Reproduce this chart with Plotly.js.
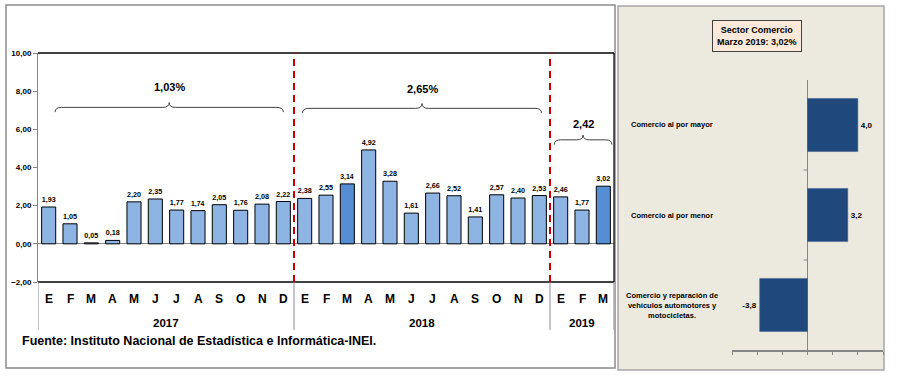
<!DOCTYPE html>
<html>
<head>
<meta charset="utf-8">
<script src="https://cdn.plot.ly/plotly-3.0.1.min.js"></script>
<style>
  html, body { margin: 0; padding: 0; background: #fff; }
  #chart { width: 920px; height: 376px; }
</style>
</head>
<body>
<div id="chart"></div>
<script>
// ---------- DATA ----------
const months = ['E','F','M','A','M','J','J','A','S','O','N','D',
                'E','F','M','A','M','J','J','A','S','O','N','D',
                'E','F','M'];
const values = [1.93, 1.05, 0.05, 0.18, 2.20, 2.35, 1.77, 1.74, 2.05, 1.76, 2.08, 2.22,
                2.38, 2.55, 3.14, 4.92, 3.28, 1.61, 2.66, 2.52, 1.41, 2.57, 2.40, 2.53,
                2.46, 1.77, 3.02];
const highlightIdx = [14, 26];
const years = ['2017', '2018', '2019'];
const yearFirst = [0, 12, 24];
const yearLast = [11, 23, 26];
const yearAvg = ['1,03%', '2,65%', '2,42'];
const yTicks = [-2, 0, 2, 4, 6, 8, 10];

const sectors = ['Comercio al por mayor', 'Comercio al por menor',
                 'Comercio y reparación de<br>vehículos automotores y<br>motocicletas.'];
const sectorVals = [4.0, 3.2, -3.8];
const panelTitle = 'Sector Comercio<br>Marzo 2019: 3,02%';
const source = 'Fuente: Instituto Nacional de Estadística e Informática-INEI.';

// ---------- HELPERS ----------
const W = 920, H = 376;
const px = x => x / W;
const py = y => 1 - y / H;
const FONT = 'Liberation Sans';
const bold = (size, color) => ({family: FONT, size: size, color: color || '#000', weight: 'bold'});

const xIdx = months.map((m, i) => i);
const colors = values.map((v, i) => highlightIdx.includes(i) ? '#558ED5' : '#8DB4E2');

// ---------- TRACES ----------
const traces = [
  {
    type: 'bar', x: xIdx, y: values, xaxis: 'x', yaxis: 'y', width: 0.66,
    marker: {color: colors, line: {color: '#000', width: 1}},
    text: values.map(v => v.toFixed(2).replace('.', ',')),
    textposition: 'outside', textfont: bold(7.5), cliponaxis: false,
    hoverinfo: 'skip'
  },
  {
    type: 'bar', orientation: 'h', x: sectorVals, y: sectors.map((s, i) => i),
    xaxis: 'x2', yaxis: 'y2', width: 0.59,
    marker: {color: '#1F497D', line: {color: '#3A5F8F', width: 0.5}},
    text: sectorVals.map(v => v.toFixed(1).replace('.', ',')),
    textposition: 'outside', textfont: bold(8), cliponaxis: false,
    hoverinfo: 'skip'
  }
];

// ---------- SHAPES ----------
const shapes = [
  {type: 'rect', xref: 'paper', yref: 'paper', x0: px(6), x1: px(615), y0: py(368), y1: py(5),
   line: {color: '#8C8C8C', width: 1.5}, layer: 'below'},
  {type: 'rect', xref: 'paper', yref: 'paper', x0: px(618), x1: px(884), y0: py(370), y1: py(6),
   fillcolor: '#ECE9DF', line: {color: '#A6A6A6', width: 1.5}, layer: 'below'},
  {type: 'line', xref: 'x domain', yref: 'y domain', x0: 0, x1: 1, y0: 1, y1: 1, line: {color: '#000', width: 1.5}},
  {type: 'line', xref: 'x domain', yref: 'y domain', x0: 1, x1: 1, y0: 0, y1: 1, line: {color: '#000', width: 1.2}},
  {type: 'line', xref: 'x domain', yref: 'y domain', x0: 0, x1: 1, y0: 0, y1: 0, line: {color: '#000', width: 1.5}},
];
[yearFirst[0] - 0.5, ...yearLast.map(l => l + 0.5)].forEach(xv => {
  shapes.push({type: 'line', xref: 'x', yref: 'paper', x0: xv, x1: xv, y0: py(330), y1: py(282),
               line: {color: '#8C8C8C', width: 1}});
});
yearLast.slice(0, 2).forEach(l => {
  shapes.push({type: 'line', xref: 'x', yref: 'y', x0: l + 0.5, x1: l + 0.5, y0: -2, y1: 10,
               line: {color: '#C00000', width: 2, dash: '7px,5px'}});
});
// small tick marks on the zero line of the right panel at category boundaries
[0.5, 1.5].forEach(yv => {
  shapes.push({type: 'line', xref: 'x2', yref: 'y2', x0: -0.3, x1: 0, y0: yv, y1: yv,
               line: {color: '#868686', width: 1}});
});
function brace(x0, x1, y, h, d) {
  const m = (x0 + x1) / 2;
  return `M ${x0},${y - h} Q ${x0},${y} ${x0 + d},${y} L ${m - d},${y} Q ${m},${y} ${m},${y + h} ` +
         `Q ${m},${y} ${m + d},${y} L ${x1 - d},${y} Q ${x1},${y} ${x1},${y - h}`;
}
const braceSpec = [
  {x0: 0.3, x1: 11.0, y: 7.15, ly: 8.2},
  {x0: 11.9, x1: 23.1, y: 7.1, ly: 8.1},
  {x0: 23.7, x1: 26.4, y: 5.45, ly: 6.3}
];
braceSpec.forEach(b => {
  shapes.push({type: 'path', xref: 'x', yref: 'y', path: brace(b.x0, b.x1, b.y, 0.25, 0.3),
               line: {color: '#404040', width: 1}});
});

// ---------- ANNOTATIONS ----------
const annotations = [];
months.forEach((m, i) => {
  annotations.push({xref: 'x', yref: 'paper', x: i, y: py(299), text: m, showarrow: false,
                    font: bold(12), xanchor: 'center', yanchor: 'middle'});
});
years.forEach((yr, k) => {
  annotations.push({xref: 'x', yref: 'paper', x: (yearFirst[k] + yearLast[k]) / 2, y: py(323),
                    text: yr, showarrow: false, font: bold(11.5), yanchor: 'middle'});
});
yearAvg.forEach((t, k) => {
  const b = braceSpec[k];
  annotations.push({xref: 'x', yref: 'y', x: (b.x0 + b.x1) / 2, y: b.ly, text: t, showarrow: false,
                    font: bold(11), yanchor: 'middle'});
});
annotations.push({xref: 'paper', yref: 'paper', x: px(20), y: py(341), text: source, showarrow: false,
                  xanchor: 'left', yanchor: 'middle', font: bold(12.5)});
annotations.push({xref: 'paper', yref: 'paper', x: px(757), y: py(36), text: panelTitle, showarrow: false,
                  xanchor: 'center', yanchor: 'middle', font: bold(9), bgcolor: '#FDE9D9',
                  bordercolor: '#404040', borderwidth: 1, borderpad: 4});
sectors.forEach((s, i) => {
  annotations.push({xref: 'paper', yref: 'y2', x: px(672), y: i, text: s, showarrow: false,
                    xanchor: 'center', yanchor: 'middle', align: 'center', font: bold(7.5)});
});

// ---------- LAYOUT ----------
const layout = {
  width: W, height: H,
  margin: {l: 0, r: 0, t: 0, b: 0},
  paper_bgcolor: '#FFFFFF', plot_bgcolor: '#FFFFFF',
  showlegend: false,
  separators: ', ',
  xaxis: {domain: [px(38), px(614)], range: [-0.5, 26.5], showticklabels: false, ticks: '',
          showgrid: false, zeroline: false, showline: false, fixedrange: true},
  yaxis: {domain: [py(282), py(53)], range: [-2, 10], tickvals: yTicks, tickformat: '.2f',
          tickfont: bold(8), ticks: 'outside', ticklen: 4, tickcolor: '#868686',
          showgrid: false, zeroline: true, zerolinecolor: '#868686', zerolinewidth: 1,
          showline: true, linecolor: '#868686', linewidth: 1, fixedrange: true},
  xaxis2: {domain: [px(732), px(883)], range: [-6, 6], anchor: 'y2', dtick: 2, tick0: 0,
           showticklabels: false, ticks: 'outside', ticklen: 3, tickcolor: '#868686',
           showgrid: false, zeroline: true, zerolinecolor: '#868686', zerolinewidth: 1.5,
           showline: true, linecolor: '#868686', linewidth: 1.5, fixedrange: true},
  yaxis2: {domain: [py(350), py(80)], range: [2.5, -0.5], anchor: 'x2', showticklabels: false,
           ticks: '', showgrid: false, zeroline: false, showline: false, fixedrange: true},
  shapes: shapes,
  annotations: annotations
};

Plotly.newPlot('chart', traces, layout, {displayModeBar: false, staticPlot: true});
</script>
</body>
</html>
